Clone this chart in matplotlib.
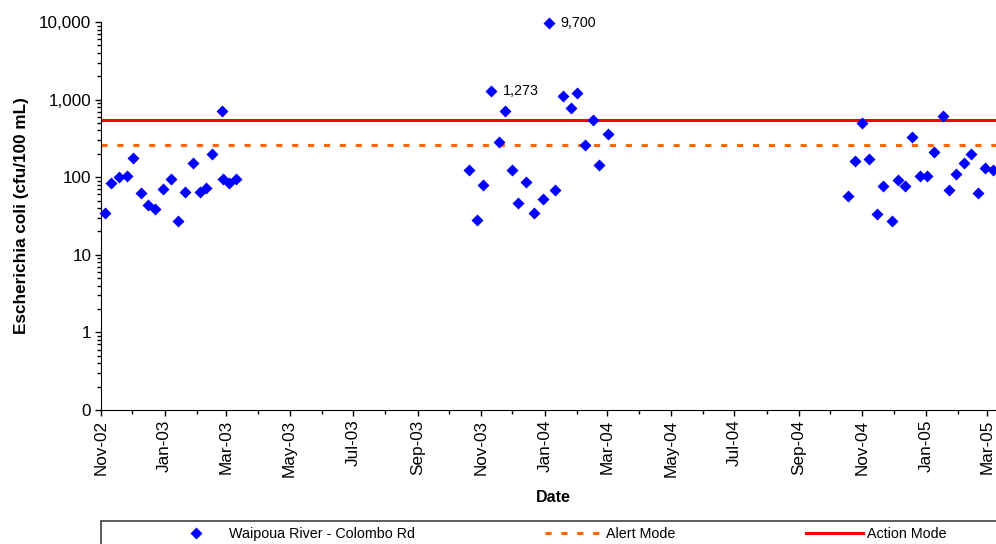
import matplotlib
matplotlib.use('Agg')
import matplotlib.pyplot as plt
import matplotlib.dates as mdates
from matplotlib.ticker import FixedLocator, LogLocator, NullFormatter
from matplotlib.patches import Rectangle
import pandas as pd

plt.rcParams['font.family'] = ['Liberation Sans', 'DejaVu Sans']

# Waipoua River - Colombo Rd, E. coli (cfu/100 mL)
dates = [
    '2002-11-05', '2002-11-11', '2002-11-18', '2002-11-26', '2002-12-02',
    '2002-12-09', '2002-12-16', '2002-12-23', '2002-12-31', '2003-01-07',
    '2003-01-14', '2003-01-21', '2003-01-28', '2003-02-04', '2003-02-10',
    '2003-02-16', '2003-02-25', '2003-02-26', '2003-03-04', '2003-03-11',
    '2003-10-20', '2003-10-28', '2003-11-03', '2003-11-10', '2003-11-18',
    '2003-11-24', '2003-12-01', '2003-12-06', '2003-12-14', '2003-12-22',
    '2003-12-30', '2004-01-05', '2004-01-11', '2004-01-19', '2004-01-26',
    '2004-02-01', '2004-02-09', '2004-02-16', '2004-02-22', '2004-03-02',
    '2004-10-18', '2004-10-25', '2004-11-01', '2004-11-07', '2004-11-15',
    '2004-11-21', '2004-11-29', '2004-12-05', '2004-12-12', '2004-12-19',
    '2004-12-26', '2005-01-02', '2005-01-09', '2005-01-17', '2005-01-23',
    '2005-01-30', '2005-02-07', '2005-02-13', '2005-02-20', '2005-02-27',
    '2005-03-06',
]
ecoli = [
    35, 83, 102, 104, 179, 62, 44, 39, 71, 94,
    27, 65, 153, 65, 72, 198, 717, 94, 84, 94,
    122, 28, 80, 1273, 283, 711, 125, 47, 88, 35,
    52, 9700, 69, 1120, 776, 1213, 259, 538, 143, 362,
    58, 161, 498, 174, 34, 77, 27, 91, 77, 331,
    103, 103, 214, 612, 69, 111, 153, 198, 63, 132,
    125,
]
alert_mode = 260
action_mode = 550

# labelled peaks
labelled = ['2003-11-10', '2004-01-05']

ytick_vals = [0.1, 1, 10, 100, 1000, 10000]
ytick_labels = ['0', '1', '10', '100', '1,000', '10,000']

x = pd.to_datetime(dates)

fig = plt.figure(figsize=(9.96, 5.44), dpi=100)
W, H = 996, 544
ax = fig.add_axes([101 / W, 1 - 410 / H, 1 - 101 / W, (410 - 22) / H])

ax.axhline(alert_mode, color='#FF6600', lw=2.2, dashes=(2.0, 3.2), zorder=2)
ax.axhline(action_mode, color='#FF0000', lw=2.2, zorder=2)
ax.plot(x, ecoli, ls='none', marker='D', ms=6, color='#0000FF', mec='none',
        zorder=3, clip_on=False)

for d in labelled:
    i = dates.index(d)
    ax.annotate(f'{ecoli[i]:,}', (x[i], ecoli[i]), xytext=(12, 0),
                textcoords='offset pixels', va='center', ha='left', fontsize=10.3)

ax.set_yscale('log')
ax.set_ylim(0.1, 10000)
ax.yaxis.set_major_locator(FixedLocator(ytick_vals))
ax.set_yticklabels(ytick_labels)
ax.yaxis.set_minor_locator(LogLocator(base=10, subs=range(2, 10)))
ax.yaxis.set_minor_formatter(NullFormatter())

ax.set_xlim(pd.Timestamp('2002-11-01'), pd.Timestamp('2005-03-09 07:00'))
ax.xaxis.set_major_locator(mdates.MonthLocator(bymonth=[1, 3, 5, 7, 9, 11]))
ax.xaxis.set_minor_locator(mdates.MonthLocator())
ax.xaxis.set_major_formatter(mdates.DateFormatter('%b-%y'))
plt.setp(ax.get_xticklabels(), rotation=90)

ax.tick_params(which='both', direction='out', color='black', width=1)
ax.tick_params(which='major', length=4, labelsize=12.3, pad=3)
ax.tick_params(which='minor', length=3)
ax.spines['top'].set_visible(False)
ax.spines['right'].set_visible(False)

ax.set_xlabel('Date', fontsize=11.5, fontweight='bold', va='center')
ax.xaxis.set_label_coords(0.505, -(497 - 410) / 388)
ax.set_ylabel('Escherichia coli (cfu/100 mL)', fontsize=12.3, fontweight='bold', va='center')
ax.yaxis.set_label_coords((21.7 - 101) / 895, 0.5)

# legend box
fig.patches.append(Rectangle((101 / W, -0.05), 1.0, 1 - 521 / H + 0.05,
                             transform=fig.transFigure, fill=False,
                             edgecolor='#404040', lw=1.2))
fig.legend(loc='center left', bbox_to_anchor=(167.5 / W, 1 - 534 / H), ncol=3,
           frameon=False, fontsize=10.3, handlelength=4, handletextpad=0.28,
           columnspacing=9.1, borderpad=0, borderaxespad=0,
           labels=['Waipoua River - Colombo Rd', 'Alert Mode', 'Action Mode'],
           handles=[ax.lines[2], ax.lines[0], ax.lines[1]])

fig.savefig('out.png', dpi=100)
